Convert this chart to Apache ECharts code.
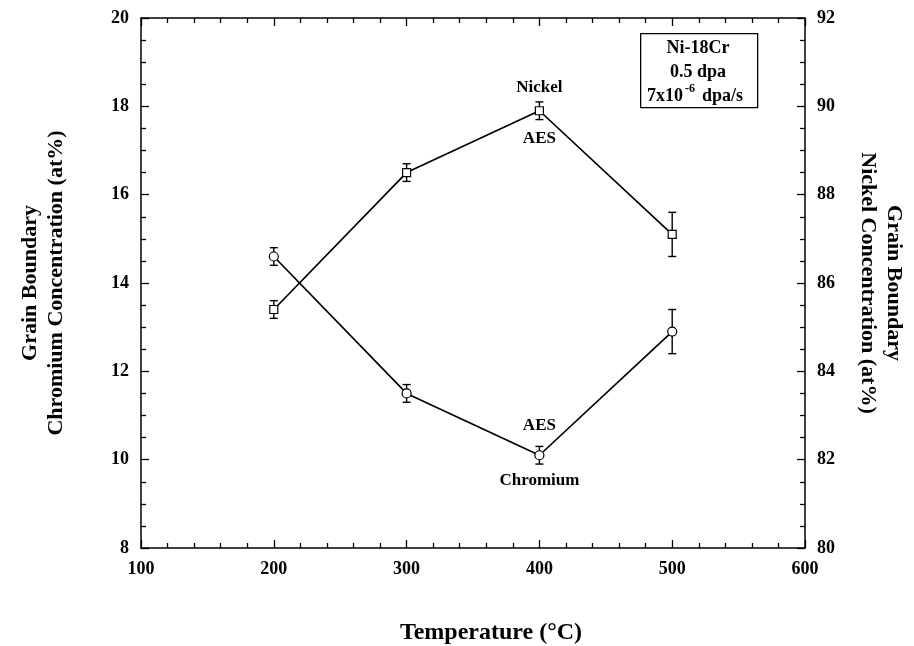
<!DOCTYPE html>
<html>
<head>
<meta charset="utf-8">
<script src="https://cdn.jsdelivr.net/npm/echarts@6/dist/echarts.min.js"></script>
<style>html,body{margin:0;padding:0;background:#fff}#c{width:914px;height:646px}</style>
</head>
<body>
<div id="c"></div>
<script>
// ---- data ----
const temps = [200, 300, 400, 500];
const nickel = [85.4, 88.5, 89.9, 87.1];
const nickelErr = [0.2, 0.2, 0.2, 0.5];
const chromium = [14.6, 11.5, 10.1, 12.9];
const chromiumErr = [0.2, 0.2, 0.2, 0.5];
const xTicks = [100, 200, 300, 400, 500, 600];
const leftTicks = [8, 10, 12, 14, 16, 18, 20];
const rightTicks = [80, 82, 84, 86, 88, 90, 92];
// annotations: [x, y(left axis units), text]
const annotations = [
  [400, 18.42, 'Nickel'],
  [400, 17.28, 'AES'],
  [400, 10.78, 'AES'],
  [400, 9.52, 'Chromium']
];

const FONT = "'Liberation Serif','Times New Roman',serif";
const chart = echarts.init(document.getElementById('c'));

function errSeries(vals, errs, yIdx) {
  return {
    type: 'custom',
    yAxisIndex: yIdx,
    silent: true,
    z: 3,
    data: temps.map((t, i) => [t, vals[i] - errs[i], vals[i] + errs[i]]),
    renderItem: function (params, api) {
      const lo = api.coord([api.value(0), api.value(1)]);
      const hi = api.coord([api.value(0), api.value(2)]);
      const w = 4;
      const st = { stroke: '#000', lineWidth: 1.4 };
      return {
        type: 'group',
        children: [
          { type: 'line', shape: { x1: lo[0], y1: lo[1], x2: hi[0], y2: hi[1] }, style: st },
          { type: 'line', shape: { x1: lo[0] - w, y1: lo[1], x2: lo[0] + w, y2: lo[1] }, style: st },
          { type: 'line', shape: { x1: hi[0] - w, y1: hi[1], x2: hi[0] + w, y2: hi[1] }, style: st }
        ]
      };
    }
  };
}

const tickStyle = { color: '#000', width: 1.3 };
const labelStyle = { color: '#000', fontFamily: FONT, fontWeight: 'bold', fontSize: 18 };
const nameStyle = { color: '#000', fontFamily: FONT, fontWeight: 'bold', fontSize: 22, lineHeight: 26 };

chart.setOption({
  animation: false,
  backgroundColor: '#fff',
  grid: { left: 141, right: 109, top: 18, bottom: 98, containLabel: false, outerBoundsMode: 'none' },
  xAxis: [
    {
      type: 'value', min: 100, max: 600, interval: 100, position: 'bottom',
      axisLine: { lineStyle: { color: '#000', width: 1.5 } },
      axisTick: { inside: true, length: 8, lineStyle: tickStyle },
      minorTick: { show: true, splitNumber: 5, length: 5, lineStyle: tickStyle },
      splitLine: { show: false },
      axisLabel: Object.assign({ margin: 12, formatter: v => xTicks.includes(v) ? String(v) : '' }, labelStyle),
      name: 'Temperature (°C)', nameLocation: 'middle', nameGap: 72,
      nameTextStyle: Object.assign({}, nameStyle, { fontSize: 24, padding: [0, 0, 0, 36] })
    },
    {
      type: 'value', min: 100, max: 600, interval: 100, position: 'top',
      axisLine: { lineStyle: { color: '#000', width: 1.5 } },
      axisTick: { inside: true, length: 8, lineStyle: tickStyle },
      minorTick: { show: true, splitNumber: 5, length: 5, lineStyle: tickStyle },
      splitLine: { show: false },
      axisLabel: { show: false }
    }
  ],
  yAxis: [
    {
      type: 'value', min: 8, max: 20, interval: 2, position: 'left',
      axisLine: { show: true, lineStyle: { color: '#000', width: 1.5 } },
      axisTick: { show: true, inside: true, length: 8, lineStyle: tickStyle },
      minorTick: { show: true, splitNumber: 4, length: 5, lineStyle: tickStyle },
      splitLine: { show: false },
      axisLabel: Object.assign({ margin: 12, formatter: v => leftTicks.includes(v) ? String(v) : '' }, labelStyle),
      name: 'Grain Boundary\nChromium Concentration (at%)', nameLocation: 'middle', nameRotate: 90,
      nameGap: 72, nameTextStyle: nameStyle
    },
    {
      type: 'value', min: 80, max: 92, interval: 2, position: 'right',
      axisLine: { show: true, lineStyle: { color: '#000', width: 1.5 } },
      axisTick: { show: true, inside: true, length: 8, lineStyle: tickStyle },
      minorTick: { show: true, splitNumber: 4, length: 5, lineStyle: tickStyle },
      splitLine: { show: false },
      axisLabel: Object.assign({ margin: 12, formatter: v => rightTicks.includes(v) ? String(v) : '' }, labelStyle),
      name: 'Grain Boundary\nNickel Concentration (at%)', nameLocation: 'middle', nameRotate: -90,
      nameGap: 50, nameTextStyle: nameStyle
    }
  ],
  series: [
    {
      name: 'Nickel', type: 'line', yAxisIndex: 1, z: 4,
      data: temps.map((t, i) => [t, nickel[i]]),
      symbol: 'rect', symbolSize: 8, showAllSymbol: true,
      lineStyle: { color: '#000', width: 1.7 },
      itemStyle: { color: '#fff', borderColor: '#000', borderWidth: 1.2 }
    },
    {
      name: 'Chromium', type: 'line', yAxisIndex: 0, z: 4,
      data: temps.map((t, i) => [t, chromium[i]]),
      symbol: 'circle', symbolSize: 9, showAllSymbol: true,
      lineStyle: { color: '#000', width: 1.7 },
      itemStyle: { color: '#fff', borderColor: '#000', borderWidth: 1.2 }
    },
    errSeries(nickel, nickelErr, 1),
    errSeries(chromium, chromiumErr, 0),
    {
      type: 'scatter', yAxisIndex: 0, symbolSize: 0, silent: true,
      itemStyle: { opacity: 1 },
      data: annotations.map(a => ({ value: [a[0], a[1]], label: { formatter: a[2] } })),
      label: {
        show: true, position: 'inside', color: '#000', opacity: 1,
        fontFamily: FONT, fontWeight: 'bold', fontSize: 17
      }
    }
  ],
  graphic: [
    {
      type: 'rect', left: 640, top: 33,
      shape: { width: 117, height: 74 },
      style: { fill: '#fff', stroke: '#000', lineWidth: 1.3 }, z: 10
    },
    {
      type: 'text', x: 698, y: 48, z: 11,
      style: { text: 'Ni-18Cr', align: 'center', verticalAlign: 'middle', fill: '#000', font: 'bold 18px ' + FONT }
    },
    {
      type: 'text', x: 698, y: 72, z: 11,
      style: { text: '0.5 dpa', align: 'center', verticalAlign: 'middle', fill: '#000', font: 'bold 18px ' + FONT }
    },
    {
      type: 'text', x: 683, y: 96, z: 11,
      style: { text: '7x10', align: 'right', verticalAlign: 'middle', fill: '#000', font: 'bold 18px ' + FONT }
    },
    {
      type: 'text', x: 685, y: 89, z: 11,
      style: { text: '-6', align: 'left', verticalAlign: 'middle', fill: '#000', font: 'bold 12px ' + FONT }
    },
    {
      type: 'text', x: 702, y: 96, z: 11,
      style: { text: 'dpa/s', align: 'left', verticalAlign: 'middle', fill: '#000', font: 'bold 18px ' + FONT }
    }
  ]
});
</script>
</body>
</html>
